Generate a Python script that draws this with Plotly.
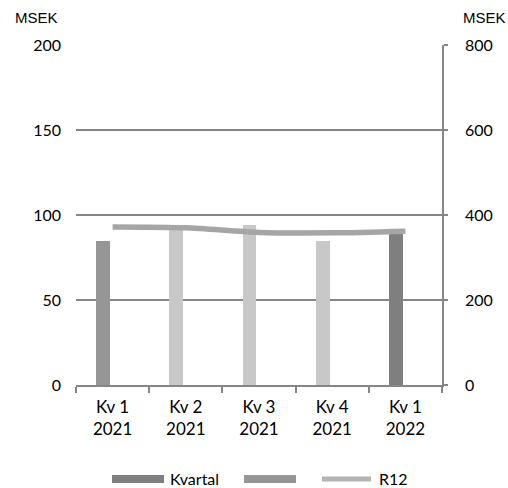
import plotly.graph_objects as go

categories = ["Kv 1<br>2021", "Kv 2<br>2021", "Kv 3<br>2021", "Kv 4<br>2021", "Kv 1<br>2022"]
kvartal = [85, 93, 94, 85, 91]
bar_colors = ["#969696", "#c8c8c8", "#c8c8c8", "#c8c8c8", "#7f7f7f"]
r12 = [372, 370, 359, 358, 362]
left_ticks = [0, 50, 100, 150, 200]
right_ticks = [0, 200, 400, 600, 800]

FONT = "Lato, 'Open Sans', sans-serif"

W, H = 508, 488
L, R, T, B = 76, 66, 45, 103
pw, ph = W - L - R, H - T - B
def px(x): return (x - L) / pw
def py(y): return (H - B - y) / ph

fig = go.Figure()
fig.add_trace(go.Bar(
    x=categories, y=kvartal, marker=dict(color=bar_colors, line=dict(width=0)),
    width=0.19, offset=-0.225, name="Kvartal", showlegend=False, yaxis="y",
))
fig.add_trace(go.Scatter(
    x=categories, y=r12, mode="lines", line=dict(color="#a6a6a6", width=5.5, shape="spline", smoothing=0.8),
    name="R12", yaxis="y2", showlegend=False,
))

fig.update_layout(
    width=W, height=H,
    margin=dict(l=L, r=R, t=T, b=B),
    paper_bgcolor="white", plot_bgcolor="white",
    font=dict(family=FONT, size=16, color="#000"),
    xaxis=dict(
        type="category", range=[-0.5, 4.5], tickson="boundaries",
        ticks="outside", ticklen=6, tickcolor="#868686", tickwidth=1.5,
        showline=True, linecolor="#868686", linewidth=1.5,
        showgrid=False, tickfont=dict(size=17, family=FONT), ticklabelstandoff=6,
    ),
    yaxis=dict(
        range=[0, 200], tickvals=left_ticks, showgrid=True, gridcolor="#868686", gridwidth=1.5,
        zeroline=False, showline=False, ticks="", ticklabelstandoff=14,
        tickfont=dict(size=16, family=FONT),
    ),
    yaxis2=dict(
        range=[0, 800], tickvals=right_ticks, overlaying="y", side="right",
        showgrid=False, zeroline=False, showline=True, linecolor="#868686", linewidth=1.5,
        ticks="outside", ticklen=4, tickcolor="#868686", tickwidth=1.5,
        ticklabelstandoff=14, tickfont=dict(size=16, family=FONT),
    ),
    bargap=0,
)

fig.add_annotation(x=px(13), y=py(17), xref="paper", yref="paper", text="MSEK", showarrow=False,
                   font=dict(family="Liberation Sans, Arial", size=15, color="#000"), xanchor="left", yanchor="middle")
fig.add_annotation(x=px(461), y=py(17), xref="paper", yref="paper", text="MSEK", showarrow=False,
                   font=dict(family="Liberation Sans, Arial", size=15, color="#000"), xanchor="left", yanchor="middle")

# Manual legend
legend_y = 478
fig.add_shape(type="rect", xref="paper", yref="paper", x0=px(112), x1=px(164), y0=py(483), y1=py(475),
              fillcolor="#7f7f7f", line=dict(width=0))
fig.add_annotation(x=px(168), y=py(legend_y), xref="paper", yref="paper", text="Kvartal", showarrow=False,
                   xanchor="left", yanchor="middle", font=dict(family=FONT, size=16))
fig.add_shape(type="rect", xref="paper", yref="paper", x0=px(244), x1=px(296), y0=py(483), y1=py(475),
              fillcolor="#969696", line=dict(width=0))
fig.add_shape(type="line", xref="paper", yref="paper", x0=px(322), x1=px(371), y0=py(479), y1=py(479),
              line=dict(color="#b4b4b4", width=5))
fig.add_annotation(x=px(377), y=py(legend_y), xref="paper", yref="paper", text="R12", showarrow=False,
                   xanchor="left", yanchor="middle", font=dict(family=FONT, size=16))

fig.write_html("out.html", config={"displayModeBar": False},
               post_script="document.body.style.margin='0';document.body.style.overflow='hidden';")
